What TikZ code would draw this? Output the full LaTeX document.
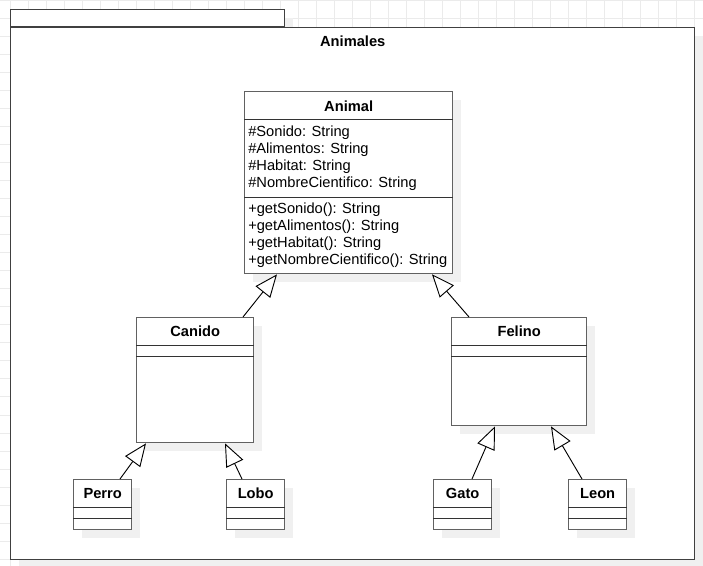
\documentclass[tikz,border=0pt]{standalone}
\usepackage{fontspec}
\setmainfont{Liberation Sans}
\usetikzlibrary{arrows.meta,calc,shadows}
\begin{document}
\begin{tikzpicture}[x=0.75pt,y=-0.75pt,
  gridline/.style={draw=black!8, line width=0.75pt},
  shade6/.style={drop shadow={shadow xshift=6pt, shadow yshift=-6pt, fill=black!6, opacity=1}},
  pkgpart/.style={draw=black!75, line width=1.1pt, fill=white, inner sep=0pt, shade6},
  classbox/.style={draw=black!62, line width=1pt, fill=white, inner sep=0pt, anchor=north west, shade6},
  sepline/.style={draw=black!80, line width=0.65pt},
  title/.style={font=\fontsize{11}{13}\selectfont\bfseries, anchor=base, inner sep=0pt},
  member/.style={font=\fontsize{11}{13}\selectfont, anchor=base west, inner sep=0pt},
  inherit/.style={draw=black, line width=0.7pt, -{Triangle[open, length=17pt, width=14pt, fill=white]}}
]
\useasboundingbox (0,0) rectangle (703,566);

% background grid
\foreach \gx in {10,28,...,694} \draw[gridline] (\gx,0) -- (\gx,566);
\foreach \gy in {1,19,...,559} \draw[gridline] (0,\gy) -- (703,\gy);

% package: tab, then body
\node[pkgpart, anchor=south west, minimum width=205.5pt, minimum height=12.4pt] (pkgtab) at (10,27) {};
\node[pkgpart, anchor=north west, minimum width=513pt, minimum height=399pt] (pkg) at (10,27) {};
\node[title] (pkgname) at ($(pkg.north)+(0,20)$) {Animales};

% class Animal
\node[classbox, minimum width=156pt, minimum height=136.5pt] (animal) at (244,91) {};
\node[title] (animalname) at ($(animal.north)+(0,21)$) {Animal};
\draw[sepline] ($(animal.north west)+(0,28)$) -- ($(animal.north east)+(0,28)$);
\draw[sepline] ($(animal.north west)+(0,106)$) -- ($(animal.north east)+(0,106)$);
\node[member] (a1) at ($(animal.north west)+(4,46)$) {\#Sonido: String};
\node[member] (a2) at ($(animal.north west)+(4,63)$) {\#Alimentos: String};
\node[member] (a3) at ($(animal.north west)+(4,80)$) {\#Habitat: String};
\node[member] (a4) at ($(animal.north west)+(4,97)$) {\#NombreCientifico: String};
\node[member] (m1) at ($(animal.north west)+(4,123)$) {+getSonido(): String};
\node[member] (m2) at ($(animal.north west)+(4,140)$) {+getAlimentos(): String};
\node[member] (m3) at ($(animal.north west)+(4,157)$) {+getHabitat(): String};
\node[member] (m4) at ($(animal.north west)+(4,174)$) {+getNombreCientifico(): String};

% subclasses Canido and Felino
\node[classbox, minimum width=87.75pt, minimum height=93.75pt] (canido) at (136,317) {};
\node[classbox, minimum width=101.25pt, minimum height=81pt] (felino) at (451,317) {};
\foreach \c/\t in {canido/Canido, felino/Felino} {
  \node[title] (\c name) at ($(\c.north)+(0,20)$) {\t};
  \draw[sepline] ($(\c.north west)+(0,28)$) -- ($(\c.north east)+(0,28)$);
  \draw[sepline] ($(\c.north west)+(0,39)$) -- ($(\c.north east)+(0,39)$);
}

% leaf classes
\node[classbox, minimum width=43.5pt, minimum height=37.5pt] (perro) at (73,479) {};
\node[classbox, minimum width=43.5pt, minimum height=37.5pt] (lobo) at (226,479) {};
\node[classbox, minimum width=43.5pt, minimum height=37.5pt] (gato) at (433,479) {};
\node[classbox, minimum width=43.5pt, minimum height=37.5pt] (leon) at (568,479) {};
\foreach \c/\t in {perro/Perro, lobo/Lobo, gato/Gato, leon/Leon} {
  \node[title] (\c name) at ($(\c.north)+(0,19.5)$) {\t};
  \draw[sepline] ($(\c.north west)+(0,28)$) -- ($(\c.north east)+(0,28)$);
  \draw[sepline] ($(\c.north west)+(0,39)$) -- ($(\c.north east)+(0,39)$);
}

% generalization arrows
\draw[inherit] ($(canido.north west)+(107,0)$) -- ($(animal.south west)+(33,0)$);
\draw[inherit] ($(felino.north west)+(18,0)$) -- ($(animal.south west)+(188,0)$);
\draw[inherit] ($(perro.north west)+(47,0)$) -- ($(canido.south west)+(10,0)$);
\draw[inherit] ($(lobo.north west)+(16,0)$) -- ($(canido.south west)+(89,0)$);
\draw[inherit] ($(gato.north west)+(39,0)$) -- ($(felino.south west)+(44,0)$);
\draw[inherit] ($(leon.north west)+(14,0)$) -- ($(felino.south west)+(100,0)$);
\end{tikzpicture}
\end{document}
